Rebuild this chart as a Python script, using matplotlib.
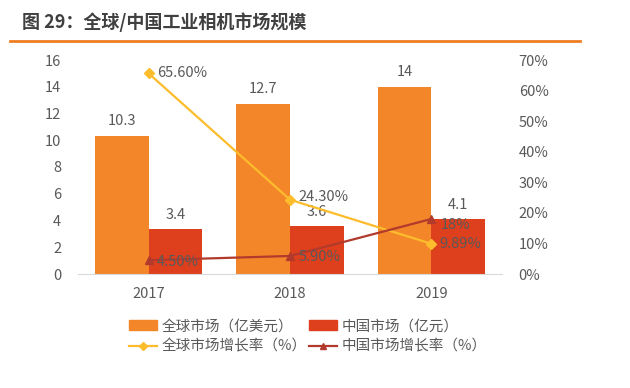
import numpy as np
import matplotlib
matplotlib.use("Agg")
import matplotlib.pyplot as plt
from matplotlib.lines import Line2D
from matplotlib.patches import Patch

plt.rcParams['font.family'] = ['Noto Sans CJK SC', 'DejaVu Sans']

years = ['2017', '2018', '2019']
global_market = [10.3, 12.7, 14]
china_market = [3.4, 3.6, 4.1]
global_growth = [65.60, 24.30, 9.89]
china_growth = [4.50, 5.90, 18]
global_growth_labels = ['65.60%', '24.30%', '9.89%']
china_growth_labels = ['4.50%', '5.90%', '18%']

c_orange = '#F4862A'
c_red = '#DE3F1C'
c_yellow = '#FCBC2C'
c_darkred = '#B23A2C'
c_text = '#595959'
fs = 10.5

fig = plt.figure(figsize=(6.3, 3.88), dpi=100)

# title and rule
fig.text(22 / 630, 1 - 22 / 388, '图 29：全球/中国工业相机市场规模', fontsize=13,
         fontweight='bold', color='#404040', va='center', ha='left')
fig.add_artist(Line2D([10 / 630, 580 / 630], [1 - 41 / 388, 1 - 41 / 388],
                      color='#EE7D22', lw=2))

ax = fig.add_axes([78 / 630, 1 - 274 / 388, 424 / 630, 214 / 388])
ax2 = ax.twinx()

x = np.arange(len(years))
w = 0.38
ax.bar(x - w / 2, global_market, w, color=c_orange, zorder=2)
ax.bar(x + w / 2, china_market, w, color=c_red, zorder=2)
for xi, v in zip(x, global_market):
    ax.text(xi - w / 2, v + 0.6, f'{v:g}', ha='center', va='bottom', fontsize=fs, color=c_text)
for xi, v in zip(x, china_market):
    ax.text(xi + w / 2, v + 0.5, f'{v:g}', ha='center', va='bottom', fontsize=fs, color=c_text)

ax.set_xlim(-0.5, 2.5)
ax.set_ylim(0, 16)
ax.set_yticks(range(0, 17, 2))
ax.set_xticks(x)
ax.set_xticklabels(years)
for s in ['top', 'right', 'left']:
    ax.spines[s].set_visible(False)
ax.spines['bottom'].set_color('#D9D9D9')
ax.tick_params(axis='both', length=0, labelsize=fs, colors=c_text)
ax.tick_params(axis='x', pad=9)
ax.tick_params(axis='y', pad=12)

ax2.plot(x, global_growth, color=c_yellow, marker='D', markersize=5, lw=1.6, zorder=3)
ax2.plot(x, china_growth, color=c_darkred, marker='^', markersize=6, lw=1.6, zorder=3)
g_off = [(6, 0), (6, 2), (6, 0)]
for xi, v, lab, off in zip(x, global_growth, global_growth_labels, g_off):
    ax2.annotate(lab, (xi, v), xytext=off, textcoords='offset points', ha='left',
                 va='center', fontsize=fs, color=c_text)
c_off = [(6, -1), (6, -1), (7, -4)]
for xi, v, lab, off in zip(x, china_growth, china_growth_labels, c_off):
    ax2.annotate(lab, (xi, v), xytext=off, textcoords='offset points', ha='left',
                 va='center', fontsize=fs, color=c_text)
ax2.set_ylim(0, 70)
ax2.set_yticks(range(0, 71, 10))
ax2.set_yticklabels([f'{t}%' for t in range(0, 71, 10)])
for s in ax2.spines.values():
    s.set_visible(False)
ax2.tick_params(axis='y', length=0, labelsize=fs, colors=c_text, pad=12)

handles = [
    Patch(color=c_orange, label='全球市场（亿美元）'),
    Line2D([], [], color=c_yellow, marker='D', markersize=4, lw=1.6, label='全球市场增长率（%）'),
    Patch(color=c_red, label='中国市场（亿元）'),
    Line2D([], [], color=c_darkred, marker='^', markersize=5, lw=1.6, label='中国市场增长率（%）'),
]
leg = fig.legend(handles=handles, ncol=2, loc='upper left', bbox_to_anchor=(116 / 630, 1 - 306 / 388),
                 frameon=False, fontsize=fs, handlelength=1.9, handleheight=0.7,
                 columnspacing=0.2, handletextpad=0.3, labelspacing=0.45)
for t in leg.get_texts():
    t.set_color(c_text)

fig.savefig('out.png', dpi=100)
